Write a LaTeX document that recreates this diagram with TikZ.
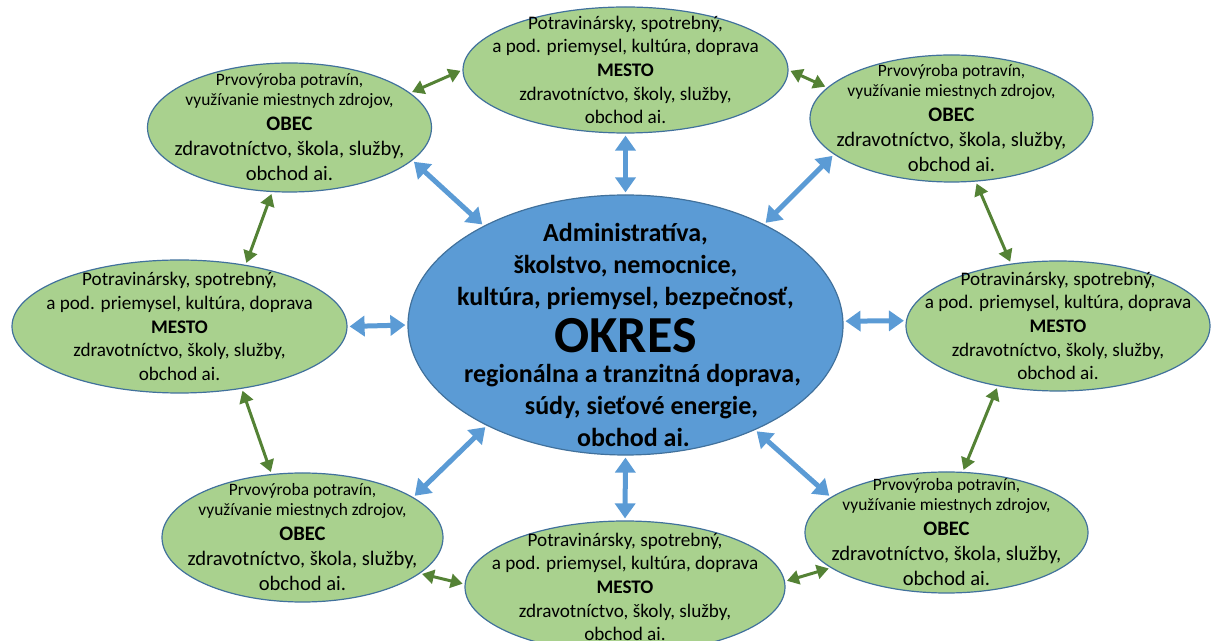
\documentclass[tikz,border=0pt]{standalone}
\usepackage{fontspec}
\setmainfont{Carlito}
\usetikzlibrary{shapes.geometric,arrows.meta}
\definecolor{zelena}{HTML}{A9D18E}
\definecolor{obrys}{HTML}{41719C}
\definecolor{modra}{HTML}{5B9BD5}
\definecolor{tmavozelena}{HTML}{548235}
\newcommand{\obectxt}{\fontsize{8.7}{10}\selectfont Prvovýroba potravín,\\[-2.5pt]
  \fontsize{8.7}{10}\selectfont využívanie miestnych zdrojov,\\
  \textbf{OBEC}\\ zdravotníctvo, škola, služby,\\ obchod ai.}
\newcommand{\mestotxt}{Potravinársky, spotrebný,\\ a pod. priemysel, kultúra, doprava\\
  \textbf{MESTO}\\ zdravotníctvo, školy, služby,\\ obchod ai.}
\begin{document}
\begin{tikzpicture}[x=0.5pt,y=-0.5pt,
  obec/.style={ellipse,draw=obrys,line width=0.6pt,fill=zelena,inner sep=-14pt,align=center,font=\fontsize{10.3}{12.5}\selectfont},
  mesto/.style={obec,font=\fontsize{9.6}{11.8}\selectfont},
  okres/.style={ellipse,draw=obrys,line width=0.6pt,fill=modra,inner sep=0pt,minimum width=217.5pt,minimum height=130pt},
  okrestxt/.style={align=center,font=\bfseries\fontsize{13}{16}\selectfont,yshift=-5pt},
  modrasip/.style={<->,>={Triangle[length=7.5pt,width=10pt]},line width=2.5pt,color=modra,shorten <=1pt,shorten >=1pt},
  zelenasip/.style={<->,>={Triangle[length=6pt,width=7pt]},line width=1.5pt,color=tmavozelena,shorten <=1pt,shorten >=1pt}]
  \useasboundingbox (0,0) rectangle (1211,641);
  \node[okres,label={[okrestxt]center:{Administratíva,\\ školstvo, nemocnice,\\ kultúra, priemysel, bezpečnosť,\\[3pt]
    \fontsize{26}{30}\selectfont OKRES\hspace*{7pt}\\[-1pt] \hspace*{7pt}regionálna a tranzitná doprava,\\ \hspace*{16pt}súdy, sieťové energie,\\ \hspace*{8pt}obchod ai.}}] (o) at (625.5,325) {};
  \node[mesto,minimum width=162.5pt,minimum height=63pt] (mt) at (625.5,70) {\mestotxt};
  \node[obec,minimum width=142pt,minimum height=64.5pt] (otl) at (289.5,127.5) {\obectxt};
  \node[obec,minimum width=141.5pt,minimum height=63.5pt] (otr) at (951.5,118.5) {\obectxt};
  \node[mesto,minimum width=167.5pt,minimum height=66.5pt] (ml) at (179.5,326.5) {\mestotxt};
  \node[mesto,minimum width=152pt,minimum height=65pt] (mr) at (1058,326) {\mestotxt};
  \node[obec,minimum width=140.5pt,minimum height=64.5pt] (obl) at (302.5,537.5) {\obectxt};
  \node[mesto,minimum width=160pt,minimum height=66pt] (mb) at (625,587) {\mestotxt};
  \node[obec,minimum width=141.5pt,minimum height=60.5pt] (obr) at (946.5,532.5) {\obectxt};
  \draw[modrasip] (mt.south) -- (o.north);
  \draw[modrasip] (otl.-15) -- (o.145);
  \draw[modrasip] (otr.-163) -- (o.36);
  \draw[modrasip] (ml.east) -- (o.west);
  \draw[modrasip] (o.1) -- (mr.178);
  \draw[modrasip] (obl.20) -- (o.216);
  \draw[modrasip] (o.south) -- (mb.north);
  \draw[modrasip] (o.-39) -- (obr.163);
  \draw[zelenasip] (otl.16) -- (mt.180);
  \draw[zelenasip] (mt.0) -- (otr.166);
  \draw[zelenasip] (otl.255) -- (ml.43);
  \draw[zelenasip] (ml.-45) -- (obl.116);
  \draw[zelenasip] (otr.-69) -- (mr.127);
  \draw[zelenasip] (mr.-135) -- (obr.75);
  \draw[zelenasip] (obl.-17) -- (mb.179);
  \draw[zelenasip] (mb.2) -- (obr.-163);
\end{tikzpicture}
\end{document}
